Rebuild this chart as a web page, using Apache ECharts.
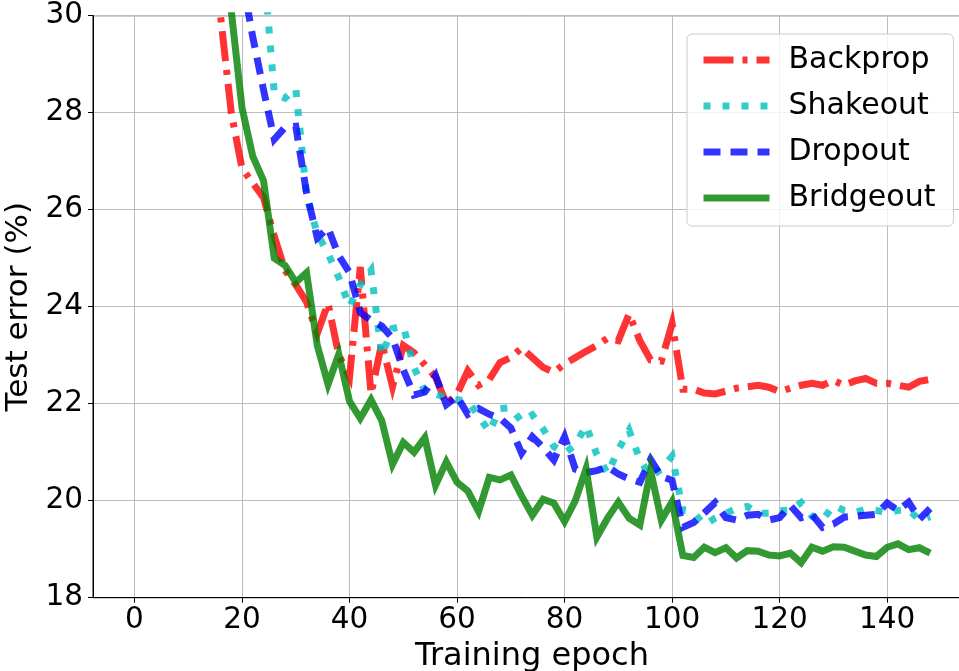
<!DOCTYPE html>
<html>
<head>
<meta charset="utf-8">
<script src="https://cdn.jsdelivr.net/npm/echarts@6/dist/echarts.min.js"></script>
<style>
  html, body { margin: 0; padding: 0; background: #fff; }
  #chart { width: 959px; height: 671px; }
</style>
</head>
<body>
<div id="chart"></div>
<script>
// epochs (every 2nd epoch)
var epochs = [0, 2, 4, 6, 8, 10, 12, 14, 16, 18, 20, 22, 24, 26, 28, 30, 32, 34, 36, 38,
  40, 42, 44, 46, 48, 50, 52, 54, 56, 58, 60, 62, 64, 66, 68, 70, 72, 74, 76, 78,
  80, 82, 84, 86, 88, 90, 92, 94, 96, 98, 100, 102, 104, 106, 108, 110, 112, 114, 116, 118,
  120, 122, 124, 126, 128, 130, 132, 134, 136, 138, 140, 142, 144, 146, 148];

// test error (%) per method
var backprop = [58, 48, 42, 38.5, 36, 34, 32.6, 31.3, 30.0, 28.0, 26.85, 26.55, 26.25, 25.45, 24.75, 24.45, 24.1, 23.45, 24.07, 23.0,
  22.55, 24.82, 22.2, 23.25, 22.35, 23.2, 23.05, 22.8, 22.55, 22.0, 22.2, 22.68, 22.38, 22.5, 22.85, 22.95, 23.15, 22.95, 22.75, 22.65,
  22.82, 22.95, 23.08, 23.2, 23.35, 23.3, 23.85, 23.3, 22.9, 22.88, 23.65, 22.3, 22.3, 22.22, 22.2, 22.26, 22.32, 22.35, 22.38, 22.34,
  22.25, 22.32, 22.38, 22.42, 22.38, 22.48, 22.38, 22.47, 22.52, 22.42, 22.42, 22.38, 22.34, 22.46, 22.5];
var shakeout = [70, 63, 57, 52, 48, 44, 41, 39, 37, 35.5, 34, 32.5, 31.1, 28.4, 28.3, 28.5, 26.3, 25.5, 25.1, 24.6,
  24.0, 24.45, 24.75, 23.0, 23.55, 23.6, 22.75, 22.25, 22.2, 22.12, 22.08, 22.05, 21.75, 21.42, 21.9, 21.92, 21.63, 21.77, 21.48, 21.12,
  20.98, 21.15, 21.55, 20.95, 20.56, 21.05, 21.45, 20.85, 20.5, 20.65, 20.92, 19.8, 19.76, 19.5, 19.64, 19.74, 19.84, 19.88, 19.74, 19.74,
  19.8, 19.8, 19.96, 19.68, 19.6, 19.9, 19.8, 19.76, 19.82, 19.8, 19.75, 19.8, 19.82, 19.6, 19.67];
var dropout = [68, 62, 56, 51, 47, 43, 40, 37.5, 35, 33, 30.8, 29.56, 28.47, 27.45, 27.7, 27.72, 26.35, 25.42, 25.62, 25.05,
  24.7, 23.88, 23.72, 23.6, 23.35, 22.7, 22.18, 22.24, 22.58, 21.98, 22.15, 21.78, 21.9, 21.78, 21.7, 21.5, 20.98, 21.32, 21.1, 20.84,
  21.32, 20.65, 20.58, 20.62, 20.7, 20.55, 20.45, 20.38, 20.85, 20.5, 20.42, 19.45, 19.55, 19.75, 19.96, 19.65, 19.6, 19.7, 19.72, 19.6,
  19.65, 19.9, 19.65, 19.72, 19.45, 19.52, 19.66, 19.68, 19.7, 19.72, 19.95, 19.8, 19.97, 19.62, 19.84];
var bridgeout = [64, 56, 50, 45, 41.5, 38.5, 36, 34, 32, 30.1, 28.1, 27.1, 26.6, 25.0, 24.85, 24.5, 24.7, 23.2, 22.4, 23.02,
  22.05, 21.7, 22.08, 21.65, 20.75, 21.2, 21.0, 21.3, 20.32, 20.8, 20.38, 20.2, 19.78, 20.48, 20.43, 20.53, 20.1, 19.7, 20.03, 19.95,
  19.57, 20.0, 20.66, 19.25, 19.64, 19.97, 19.64, 19.5, 20.62, 19.6, 19.98, 18.87, 18.83, 19.04, 18.93, 19.03, 18.82, 18.97, 18.96, 18.88,
  18.86, 18.92, 18.72, 19.04, 18.96, 19.05, 19.04, 18.96, 18.88, 18.85, 19.04, 19.11, 18.99, 19.03, 18.92];

var xTicks = [0, 20, 40, 60, 80, 100, 120, 140];

function pairs(ys) {
  var out = [];
  for (var i = 0; i < epochs.length; i++) {
    out.push([epochs[i], ys[i]]);
  }
  return out;
}

var font = "DejaVu Sans";
var lw = 7;

function lineSeries(name, color, dash, ys) {
  return {
    name: name,
    type: "line",
    data: pairs(ys),
    symbol: "none",
    showSymbol: false,
    clip: true,
    animation: false,
    lineStyle: {
      color: color,
      width: lw,
      type: dash,
      opacity: 0.8,
      cap: "butt",
      join: "miter"
    },
    itemStyle: { color: color, opacity: 0.8 }
  };
}

var chart = echarts.init(document.getElementById("chart"), null, { renderer: "canvas" });

var option = {
  backgroundColor: "#ffffff",
  animation: false,
  textStyle: { fontFamily: font },
  grid: {
    left: 93,
    top: 15.7,
    width: 868,
    height: 582,
    outerBoundsMode: "none",
    containLabel: false,
    show: true,
    borderColor: "#000",
    borderWidth: 1,
    backgroundColor: "transparent"
  },
  legend: {
    left: 687,
    top: 34,
    orient: "vertical",
    itemWidth: 66,
    itemHeight: 7,
    itemGap: 16,
    padding: [11, 18, 13, 13],
    backgroundColor: "rgba(255,255,255,0.8)",
    borderColor: "#cccccc",
    borderWidth: 1,
    borderRadius: 5,
    textStyle: {
      fontFamily: font,
      fontSize: 30,
      lineHeight: 30,
      color: "#000",
      padding: [0, 0, 0, 14]
    },
    lineStyle: { width: lw },
    itemStyle: { opacity: 0 },
    data: ["Backprop", "Shakeout", "Dropout", "Bridgeout"]
  },
  xAxis: {
    type: "value",
    min: -7.72,
    max: 153.74,
    name: "Training epoch",
    nameLocation: "middle",
    nameGap: 36,
    nameTextStyle: { fontFamily: font, fontSize: 32, color: "#000", padding: [0, 0, 0, 10] },
    axisLine: { show: true, onZero: false, lineStyle: { color: "#000", width: 1 } },
    axisTick: { show: true, length: 5, customValues: xTicks, lineStyle: { color: "#000" } },
    axisLabel: { customValues: xTicks, margin: 8, fontFamily: font, fontSize: 29.5, color: "#000" },
    splitLine: { show: true, lineStyle: { color: "#bdbdbd", width: 1 } }
  },
  yAxis: {
    type: "value",
    min: 18,
    max: 30,
    interval: 2,
    name: "Test error (%)",
    nameLocation: "middle",
    nameGap: 44,
    nameTextStyle: { fontFamily: font, fontSize: 31, color: "#000" },
    axisLine: { show: true, onZero: false, lineStyle: { color: "#000", width: 1 } },
    axisTick: { show: true, length: 5, lineStyle: { color: "#000" } },
    axisLabel: { margin: 10, fontFamily: font, fontSize: 29.5, color: "#000" },
    splitLine: { show: true, lineStyle: { color: "#bdbdbd", width: 1 } }
  },
  series: [
    lineSeries("Backprop", "#ff0000", [30, 9, 5, 9], backprop),
    lineSeries("Shakeout", "#00bfbf", [7, 12], shakeout),
    lineSeries("Dropout", "#0000ff", [17, 10], dropout),
    lineSeries("Bridgeout", "#008000", "solid", bridgeout)
  ]
};

chart.setOption(option);
</script>
</body>
</html>
